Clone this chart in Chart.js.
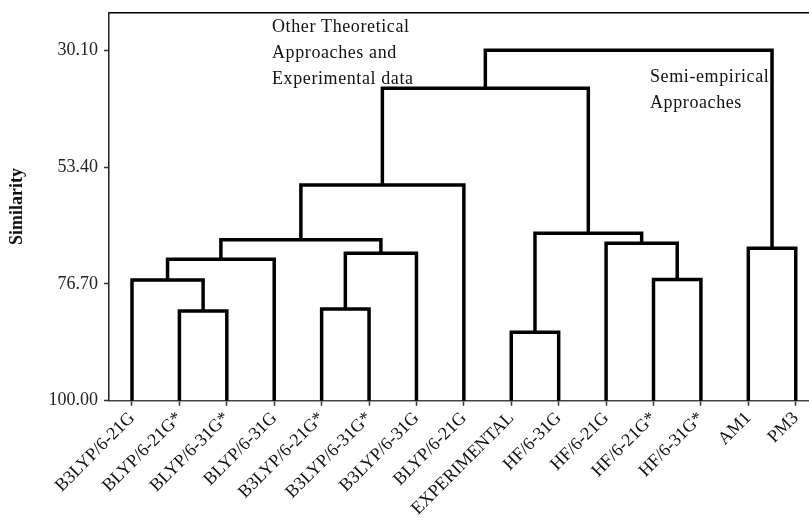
<!DOCTYPE html>
<html>
<head>
<meta charset="utf-8">
<script src="https://cdn.jsdelivr.net/npm/chart.js@4.4.1/dist/chart.umd.min.js"></script>
<style>
  html, body { margin: 0; padding: 0; background: #fff; overflow: hidden; }
  #wrap { width: 809px; height: 525px; position: relative; }
</style>
</head>
<body>
<div id="wrap"><canvas id="dendro"></canvas></div>
<script>
// leaves in plot order
const leafLabels = [
  'B3LYP/6-21G', 'BLYP/6-21G*', 'BLYP/6-31G*', 'BLYP/6-31G',
  'B3LYP/6-21G*', 'B3LYP/6-31G*', 'B3LYP/6-31G', 'BLYP/6-21G',
  'EXPERIMENTAL', 'HF/6-31G', 'HF/6-21G', 'HF/6-21G*', 'HF/6-31G*',
  'AM1', 'PM3'
];

// linkage: node ids >= leafLabels.length are earlier merges (15, 16, ...)
const mergePairs = [
  [1, 2], [4, 5], [8, 9], [0, 15], [11, 12], [18, 3], [16, 6],
  [13, 14], [10, 19], [20, 21], [17, 23], [24, 7], [26, 25], [27, 22]
];
const mergeHeights = [82.1, 81.7, 86.35, 75.9, 75.8, 71.8, 70.6, 69.6, 68.6, 67.9, 66.6, 56.97, 37.68, 30.10];

const yTicks = [30.10, 53.40, 76.70, 100.00];
const leafHeight = 100;

const notes = [
  { lines: ['Other Theoretical', 'Approaches and', 'Experimental data'], dx: 163, dy: 19.5 },
  { lines: ['Semi-empirical', 'Approaches'], dx: 541, dy: 69.5 }
];

const FONT = '"Liberation Serif", "Times New Roman", serif';

function buildDatasets() {
  const pos = leafLabels.map((_, i) => i);
  const hgt = leafLabels.map(() => leafHeight);
  const sets = [];
  mergePairs.forEach(([a, b], k) => {
    const h = mergeHeights[k];
    sets.push({
      data: [
        { x: pos[a], y: hgt[a] },
        { x: pos[a], y: h },
        { x: pos[b], y: h },
        { x: pos[b], y: hgt[b] }
      ],
      showLine: true,
      borderColor: '#000',
      borderWidth: 3.5,
      borderJoinStyle: 'miter',
      borderCapStyle: 'butt',
      pointRadius: 0,
      tension: 0,
      clip: 4
    });
    pos.push((pos[a] + pos[b]) / 2);
    hgt.push(h);
  });
  return sets;
}

const notesPlugin = {
  id: 'notes',
  afterDraw(chart) {
    const { ctx, chartArea } = chart;
    ctx.save();
    ctx.font = `18px ${FONT}`;
    ctx.letterSpacing = '0.6px';
    ctx.fillStyle = '#111';
    ctx.textAlign = 'left';
    ctx.textBaseline = 'alphabetic';
    notes.forEach(n => {
      n.lines.forEach((t, i) => {
        ctx.fillText(t, chartArea.left + n.dx, chartArea.top + n.dy + i * 26);
      });
    });
    ctx.restore();
  }
};

function init() {
  new Chart(document.getElementById('dendro'), {
    type: 'scatter',
    data: { datasets: buildDatasets() },
    plugins: [notesPlugin],
    options: {
      responsive: true,
      maintainAspectRatio: false,
      animation: false,
      layout: { padding: 0 },
      plugins: { legend: { display: false }, tooltip: { enabled: false } },
      scales: {
        x: {
          type: 'linear',
          position: 'bottom',
          min: -0.485,
          max: 14.28,
          afterBuildTicks: s => { s.ticks = leafLabels.map((_, i) => ({ value: i })); },
          afterFit: s => { s.height = 124.3; s.paddingLeft = 0; s.paddingRight = 0; },
          ticks: {
            autoSkip: false,
            minRotation: 45,
            maxRotation: 45,
            padding: 2,
            color: '#111',
            font: { family: FONT, size: 18 },
            callback: v => leafLabels[v] || ''
          },
          grid: { display: true, drawOnChartArea: false, tickLength: 5, tickColor: '#333', tickWidth: 1.5 },
          border: { display: true, color: '#444', width: 1.5 }
        },
        xTop: {
          type: 'linear',
          position: 'top',
          afterFit: s => { s.height = 12.5; },
          ticks: { display: false },
          grid: { display: false },
          border: { display: true, color: '#000', width: 1.5 }
        },
        y: {
          type: 'linear',
          reverse: true,
          min: 22.55,
          max: 100,
          afterBuildTicks: s => { s.ticks = yTicks.map(v => ({ value: v })); },
          afterFit: s => { s.width = 109; s.paddingTop = 0; s.paddingBottom = 0; },
          ticks: {
            padding: 6,
            color: '#222',
            font: { family: FONT, size: 18 },
            callback: v => Number(v).toFixed(2)
          },
          grid: { display: true, drawOnChartArea: false, tickLength: 5, tickColor: '#333', tickWidth: 1.5 },
          border: { display: true, color: '#222', width: 1.5 },
          title: {
            display: true,
            text: 'Similarity',
            color: '#111',
            font: { family: FONT, size: 18, weight: 'bold' },
            padding: { top: 7, bottom: 0 }
          }
        }
      }
    }
  });
}

window.addEventListener('DOMContentLoaded', init);
</script>
</body>
</html>
